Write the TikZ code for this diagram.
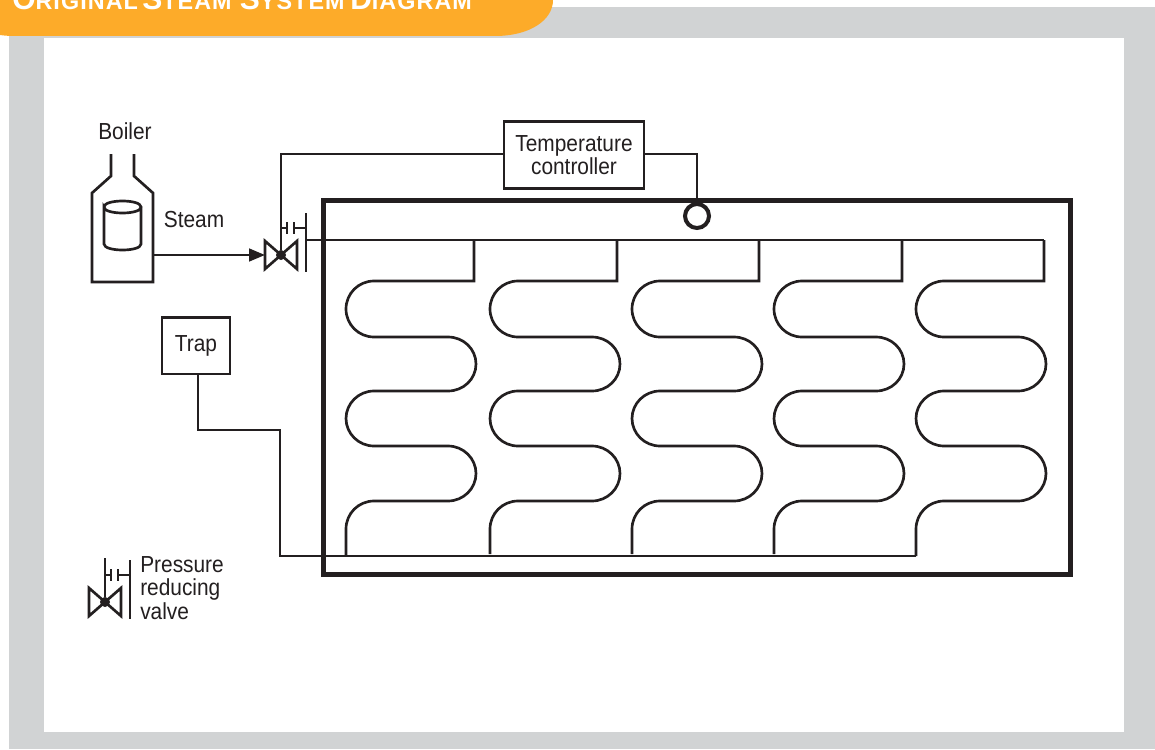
\documentclass[tikz,border=0pt]{standalone}
\usepackage{fontspec}
\setmainfont[FakeStretch=0.9]{Liberation Sans}
\newfontfamily\bannerfont[LetterSpace=4.6]{Liberation Sans Bold}
\usetikzlibrary{arrows.meta}
\definecolor{framegrey}{HTML}{D1D3D4}
\definecolor{bannerorange}{HTML}{FDAB29}
\definecolor{ink}{HTML}{231F20}
\newcommand{\BL}[1]{{\fontsize{22.5}{22}\selectfont #1}}
\newcommand{\BS}[1]{{\fontsize{17.5}{18}\selectfont #1}}
\tikzset{
  pipe/.style={draw=ink,line width=2pt,line join=miter},
  heavy/.style={draw=ink,line width=3.9pt},
  labeltext/.style={text=ink,font=\fontsize{17.4}{18}\selectfont,align=center,inner sep=0pt},
  boxnode/.style={draw=ink,line width=2pt,labeltext,inner sep=0pt},
  valvedot/.style={circle,fill=ink,inner sep=0pt,minimum size=7.5pt},
  flowarrow/.style={-{Triangle[length=12pt,width=9.5pt]}}
}
\newcommand{\ValveAt}[3]{%
  \begin{scope}[shift={(#1,#2)}]
    \draw[pipe] (-16,-14) -- (-16,14) -- (16,-14) -- (16,14) -- cycle;
    \draw[pipe] (0,-27) -- (6,-27) (13,-27) -- (25,-27) (25,-42) -- (25,17);
    \draw[pipe] (6,-33) -- (6,-21) (13,-33) -- (13,-21);
    \node[valvedot] (#3) at (0,0) {};
  \end{scope}}
\begin{document}
\begin{tikzpicture}[x=0.75pt,y=-0.75pt]
\useasboundingbox (0,0) rectangle (1155,749);
\fill[framegrey] (9,7) rectangle (1155,749);
\fill[white] (44,38) rectangle (1124,732);
\fill[bannerorange] (0,0) -- (553,0) .. controls (553,20) and (530,36) .. (495,36) -- (15,36) .. controls (8,36) and (3,35.5) .. (0,35) -- cycle;
\begin{scope}
\clip (0,0) rectangle (1155,749);
\node[anchor=base west,inner sep=0pt,text=white,font=\bannerfont] (title) at (12,9.5)
  {\BL{O}\BS{RIGINAL} \BL{S}\BS{TEAM}\hspace{3pt} \BL{S}\BS{YSTEM}\hspace{1pt} \BL{D}\BS{IAGRAM}};
\end{scope}

% enclosure
\draw[heavy] (323.5,200.5) rectangle (1070.5,574.5);

% boiler
\draw[pipe] (111,154) -- (111,176) -- (92,193) -- (92,282) -- (153,282) -- (153,193) -- (134,176) -- (134,154);
\draw[pipe] (104,207) .. controls (104,199) and (141,199) .. (141,207) .. controls (141,215) and (104,215) .. (104,207) -- (104,244) .. controls (104,252) and (141,252) .. (141,244) -- (141,207);
\node[labeltext,anchor=base] (boilerlabel) at (125,139) {Boiler};
\node[labeltext,anchor=base] (steamlabel) at (194,227) {Steam};
\coordinate (boilerout) at (153,255);

% main valve
\ValveAt{281}{255}{mainvalve}
\coordinate (valvein) at (265,255);
\coordinate (valveout) at (306,240);
\coordinate (valvetop) at (281,154);
\draw[pipe,flowarrow] (boilerout) -- (valvein);

% controller
\node[boxnode,minimum width=105pt,minimum height=50pt] (controller) at (574,155)
  {Temperature\\[-0.5pt]controller};
\node[draw=ink,line width=3pt,circle,minimum size=18pt,inner sep=0pt] (sensor) at (697,216) {};
\draw[pipe] (503,154) -- (valvetop) -- (mainvalve);
\draw[pipe] (645,154) -- (697,154) -- (sensor);

% header
\coordinate (headerend) at (1044,240);
\draw[pipe] (valveout) -- (headerend);

% trap
\node[boxnode,minimum width=51pt,minimum height=42.5pt] (trap) at (196,345.5) {\raisebox{-1.5pt}{Trap}};
\coordinate (trapout) at (198,374);
\coordinate (returnend) at (916,556);
\draw[pipe] (trapout) -- (198,430) -- (280,430) -- (280,556) -- (returnend);

% radiant coils
\foreach \x/\v/\e [count=\i] in {346/474/556,490/617/554,632/759/554,774/902/554,916/1044/556}{
  \draw[pipe,line join=miter] (\v,240) -- (\v,281) -- (\x+28,281)
    .. controls +(-15.5,0) and +(0,-15.5) .. (\x,309)
    .. controls +(0,15.5) and +(-15.5,0) .. (\x+28,337)
    -- (\x+102,337)
    .. controls +(15.5,0) and +(0,-15) .. (\x+130,364)
    .. controls +(0,15) and +(15.5,0) .. (\x+102,391)
    -- (\x+28,391)
    .. controls +(-15.5,0) and +(0,-15) .. (\x,418.5)
    .. controls +(0,15) and +(-15.5,0) .. (\x+28,446)
    -- (\x+102,446)
    .. controls +(15.5,0) and +(0,-15) .. (\x+130,473.5)
    .. controls +(0,15) and +(15.5,0) .. (\x+102,501)
    -- (\x+28,501)
    .. controls +(-15.5,0) and +(0,-15.5) .. (\x,529)
    -- (\x,\e);
}

% legend
\ValveAt{105}{602}{legendvalve}
\coordinate (legendtop) at (105,558);
\draw[pipe] (legendvalve) -- (legendtop);
\node[labeltext,align=left,anchor=base west] (legendlabel) at (140,619)
  {Pressure\\[-0.5pt]reducing\\[-0.5pt]valve};
\end{tikzpicture}
\end{document}
